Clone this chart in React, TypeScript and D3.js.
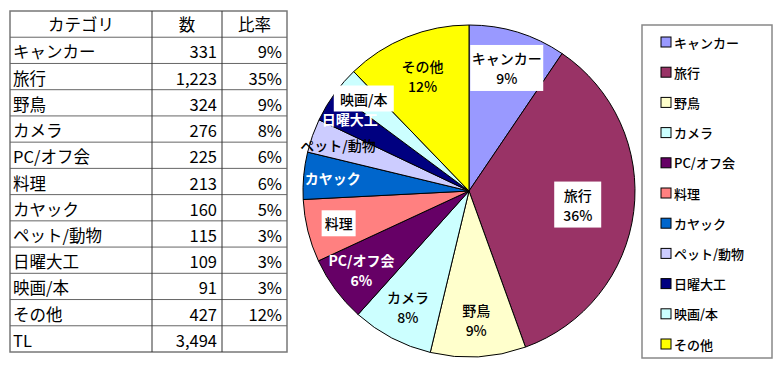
import React from 'react';
import * as d3 from 'd3';

const categories = ['キャンカー', '旅行', '野鳥', 'カメラ', 'PC/オフ会', '料理', 'カヤック', 'ペット/動物', '日曜大工', '映画/本', 'その他'];
const counts = [331, 1223, 324, 276, 225, 213, 160, 115, 109, 91, 427];
const tablePct = ['9%', '35%', '9%', '8%', '6%', '6%', '5%', '3%', '3%', '3%', '12%'];
// percentages printed inside the pie (Excel shows 36% for 旅行)
const piePct = ['9%', '36%', '9%', '8%', '6%', '', '', '', '', '', '12%'];
const tableHeader = ['カテゴリ', '数', '比率'];
const totalLabel = 'TL';

const colors = ['#9999FF', '#993366', '#FFFFCC', '#CCFFFF', '#660066', '#FF8080', '#0066CC', '#CCCCFF', '#000080', '#CCFFFF', '#FFFF00'];

// how each label is drawn: white box, white text, or plain black text
const labelKind: Record<string, string> = {
  'キャンカー': 'box', '旅行': 'box', '料理': 'box', '映画/本': 'box',
  'PC/オフ会': 'white', 'カヤック': 'white', '日曜大工': 'white'
};

const FONT = '"Noto Sans CJK JP", "Noto Sans", sans-serif';

const App = () => {
  const total = d3.sum(counts);
  const fmt = d3.format(',');

  // table geometry
  const tLeft = 10, tTop = 11, tBottom = 352;
  const colX = [tLeft, 152, 222, 287];
  const nRows = categories.length + 2;
  const y = d3.scaleLinear().domain([0, nRows]).range([tTop, tBottom]);
  const rowH = y(1) - y(0);
  const tFont = 16.5;

  const tableRows = [
    ...categories.map((c, i) => [c, fmt(counts[i]), tablePct[i]]),
    [totalLabel, fmt(total), '']
  ];

  // pie
  const cx = 469, cy = 191, R = 166;
  const pie = d3.pie<number>().sort(null).value((d) => d);
  const arcs = pie(counts);
  const arc = d3.arc<d3.PieArcDatum<number>>().innerRadius(0).outerRadius(R);

  // smaller slices get their label pushed further out, like excel does
  const labelPos = (a: d3.PieArcDatum<number>) => {
    const f = (a.endAngle - a.startAngle) / (2 * Math.PI);
    const r = R * Math.max(0.66, 0.87 - f);
    const mid = (a.startAngle + a.endAngle) / 2;
    return [Math.sin(mid) * r, -Math.cos(mid) * r];
  };

  // legend
  const lgLeft = 642, lgTop = 25, lgRight = 772, lgBottom = 358;
  const ly = d3.scalePoint<string>().domain(categories).range([42, 344]);

  return (
    <svg width={780} height={370} style={{ position: 'absolute', left: 0, top: 0, background: '#fff' }} fontFamily={FONT}>
      {/* table */}
      <g>
        <rect x={tLeft} y={tTop} width={colX[3] - tLeft} height={tBottom - tTop} fill="#fff" stroke="#777" strokeWidth={1.5} />
        {d3.range(1, nRows).map((i) => (
          <line key={'h' + i} x1={tLeft} x2={colX[3]} y1={y(i)} y2={y(i)} stroke="#666" strokeWidth={1} />
        ))}
        {[1, 2].map((j) => (
          <line key={'v' + j} x1={colX[j]} x2={colX[j]} y1={tTop} y2={tBottom} stroke="#333" strokeWidth={1} />
        ))}
        {tableHeader.map((h, j) => (
          <text key={'th' + j} x={(colX[j] + colX[j + 1]) / 2} y={y(0) + rowH / 2} textAnchor="middle" dominantBaseline="central" fontSize={tFont}>
            {h}
          </text>
        ))}
        {tableRows.map((row, i) => (
          <g key={'r' + i}>
            <text x={tLeft + 3} y={y(i + 1) + rowH / 2 + 1} dominantBaseline="central" fontSize={tFont}>{row[0]}</text>
            <text x={colX[2] - 5} y={y(i + 1) + rowH / 2 + 1} textAnchor="end" dominantBaseline="central" fontSize={tFont}>{row[1]}</text>
            <text x={colX[3] - 5} y={y(i + 1) + rowH / 2 + 1} textAnchor="end" dominantBaseline="central" fontSize={tFont}>{row[2]}</text>
          </g>
        ))}
      </g>

      {/* pie */}
      <g transform={`translate(${cx},${cy})`}>
        {arcs.map((a, i) => (
          <path key={'s' + i} d={arc(a) || ''} fill={colors[i]} stroke="#000" strokeWidth={1} />
        ))}
        {arcs.map((a, i) => {
          const [lx, lyy] = labelPos(a);
          const name = categories[i];
          const kind = labelKind[name] || 'plain';
          const lines = piePct[i] ? [name, piePct[i]] : [name];
          const lh = 20;
          const w = Math.max(...lines.map((l) => l.length)) * 13 + 8;
          const h = lines.length * lh + 6;
          return (
            <g key={'l' + i} transform={`translate(${lx},${lyy})`}>
              {kind === 'box' && <rect x={-w / 2} y={-h / 2} width={w} height={h} fill="#fff" />}
              {lines.map((l, k) => (
                <text
                  key={k}
                  x={0}
                  y={(k - (lines.length - 1) / 2) * lh}
                  textAnchor="middle"
                  dominantBaseline="central"
                  fontSize={14}
                  fontWeight={kind === 'white' ? 700 : 500}
                  fill={kind === 'white' ? '#fff' : '#000'}
                >
                  {l}
                </text>
              ))}
            </g>
          );
        })}
      </g>

      {/* legend */}
      <g>
        <rect x={lgLeft} y={lgTop} width={lgRight - lgLeft} height={lgBottom - lgTop} fill="#fff" stroke="#888" strokeWidth={1.5} />
        {categories.map((c, i) => (
          <g key={'lg' + i} transform={`translate(0,${ly(c)})`}>
            <rect x={661} y={-5} width={10} height={10} fill={colors[i]} stroke="#000" strokeWidth={1} />
            <text x={674} y={0} dominantBaseline="central" fontSize={13} fontWeight={500}>{c}</text>
          </g>
        ))}
      </g>
    </svg>
  );
};

export default App;
